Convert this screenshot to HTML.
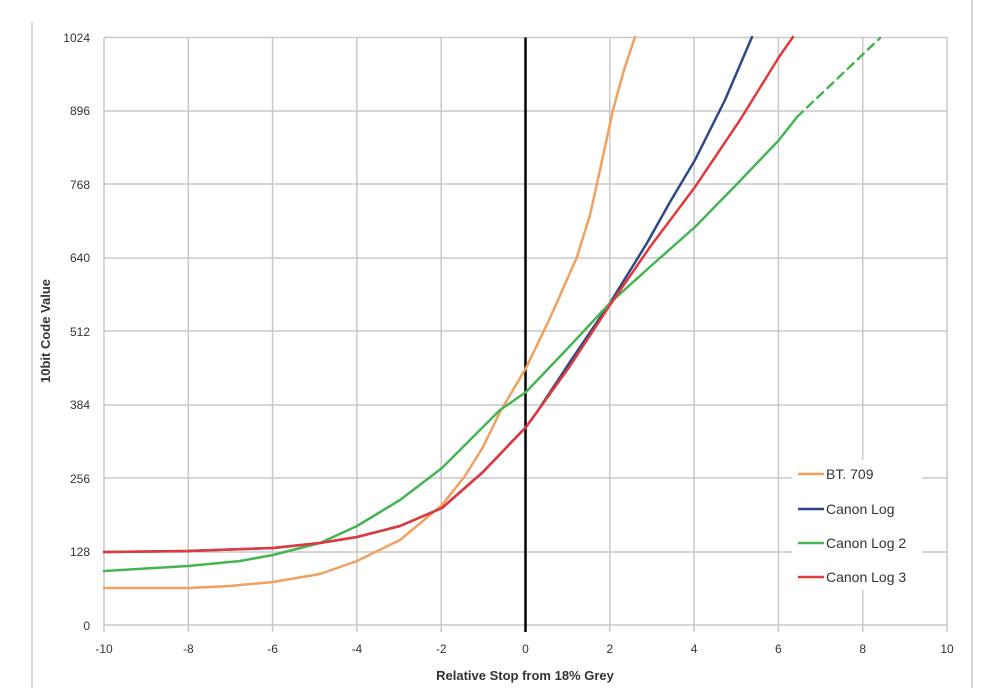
<!DOCTYPE html>
<html><head><meta charset="utf-8"><style>
body{margin:0;background:#fff;}
svg text{font-family:"Liberation Sans",sans-serif;fill:#333;}
</style></head><body>
<svg width="999" height="688" viewBox="0 0 999 688" xmlns="http://www.w3.org/2000/svg">
<line x1="32" y1="22" x2="32" y2="688" stroke="#ccc" stroke-width="1.5"/>
<line x1="972" y1="0" x2="972" y2="688" stroke="#ccc" stroke-width="1.5"/>
<g stroke="#c8c8c8" stroke-width="1.5">
<line x1="104" y1="37.5" x2="947" y2="37.5"/><line x1="104" y1="111" x2="947" y2="111"/>
<line x1="104" y1="184" x2="947" y2="184"/><line x1="104" y1="258" x2="947" y2="258"/>
<line x1="104" y1="331" x2="947" y2="331"/><line x1="104" y1="405" x2="947" y2="405"/>
<line x1="104" y1="478" x2="947" y2="478"/><line x1="104" y1="552" x2="947" y2="552"/>
<line x1="104" y1="625" x2="947" y2="625"/>
<line x1="104" y1="37.5" x2="104" y2="632"/><line x1="188.3" y1="37.5" x2="188.3" y2="632"/>
<line x1="272.6" y1="37.5" x2="272.6" y2="632"/><line x1="356.9" y1="37.5" x2="356.9" y2="632"/>
<line x1="441.2" y1="37.5" x2="441.2" y2="632"/>
<line x1="609.8" y1="37.5" x2="609.8" y2="632"/><line x1="694.1" y1="37.5" x2="694.1" y2="632"/>
<line x1="778.4" y1="37.5" x2="778.4" y2="632"/><line x1="862.7" y1="37.5" x2="862.7" y2="632"/>
<line x1="947" y1="37.5" x2="947" y2="632"/>
</g>
<line x1="525.5" y1="37.5" x2="525.5" y2="632" stroke="#000" stroke-width="2.5"/>
<g font-size="12" text-anchor="end">
<text x="90" y="42">1024</text><text x="90" y="115">896</text><text x="90" y="189">768</text>
<text x="90" y="262">640</text><text x="90" y="336">512</text><text x="90" y="409">384</text>
<text x="90" y="483">256</text><text x="90" y="556">128</text><text x="90" y="630">0</text>
</g>
<g font-size="12" text-anchor="middle">
<text x="104" y="653">-10</text><text x="188.3" y="653">-8</text><text x="272.6" y="653">-6</text>
<text x="356.9" y="653">-4</text><text x="441.2" y="653">-2</text><text x="525.5" y="653">0</text>
<text x="609.8" y="653">2</text><text x="694.1" y="653">4</text><text x="778.4" y="653">6</text>
<text x="862.7" y="653">8</text><text x="947" y="653">10</text>
</g>
<text x="525" y="680" font-size="13" font-weight="bold" text-anchor="middle">Relative Stop from 18% Grey</text>
<text transform="translate(50,331) rotate(-90)" font-size="13" font-weight="bold" text-anchor="middle">10bit Code Value</text>
<g fill="none" stroke-width="2.5" stroke-linejoin="round" stroke-linecap="round">
<polyline stroke="#f0a060" points="104,588 188,588 230,586 273,582 320,574 357,561 400,540 442,505 465,476 483,447 500,412 526,368 550,318 577,257 590,215 600,170 613,110 624,70 635,37"/>
<polyline stroke="#2e4a86" points="104,552 188,551 273,548 320,543 357,537 400,526 442,508 483,472 526,427 537,412 570,362 610,303 647,243 670,202 695,160 725,100 752,37"/>
<polyline stroke="#45b553" points="104,571 188,566 240,561 273,555 320,543 357,526 400,500 442,468 470,440 500,410 526,392 568,348 610,303 652,265 695,227 737,184 779,140 797,117"/>
<polyline stroke="#45b553" stroke-dasharray="8,6" points="797,117 838,78 880,38"/>
<polyline stroke="#e03a3e" points="104,552 188,551 273,548 320,543 357,537 400,526 442,508 483,472 526,427 537,412 570,366 610,305 650,247 695,187 740,120 779,57 793,37"/>
</g>
<rect x="792" y="460" width="130" height="130" fill="#fff"/>
<g stroke-width="2.5">
<line x1="798" y1="474" x2="824" y2="474" stroke="#f0a060"/>
<line x1="798" y1="509" x2="824" y2="509" stroke="#2e4a86"/>
<line x1="798" y1="543" x2="824" y2="543" stroke="#45b553"/>
<line x1="798" y1="577" x2="824" y2="577" stroke="#e03a3e"/>
</g>
<g font-size="14">
<text x="826" y="479">BT. 709</text><text x="826" y="514">Canon Log</text>
<text x="826" y="548">Canon Log 2</text><text x="826" y="582">Canon Log 3</text>
</g>
</svg>
</body></html>
